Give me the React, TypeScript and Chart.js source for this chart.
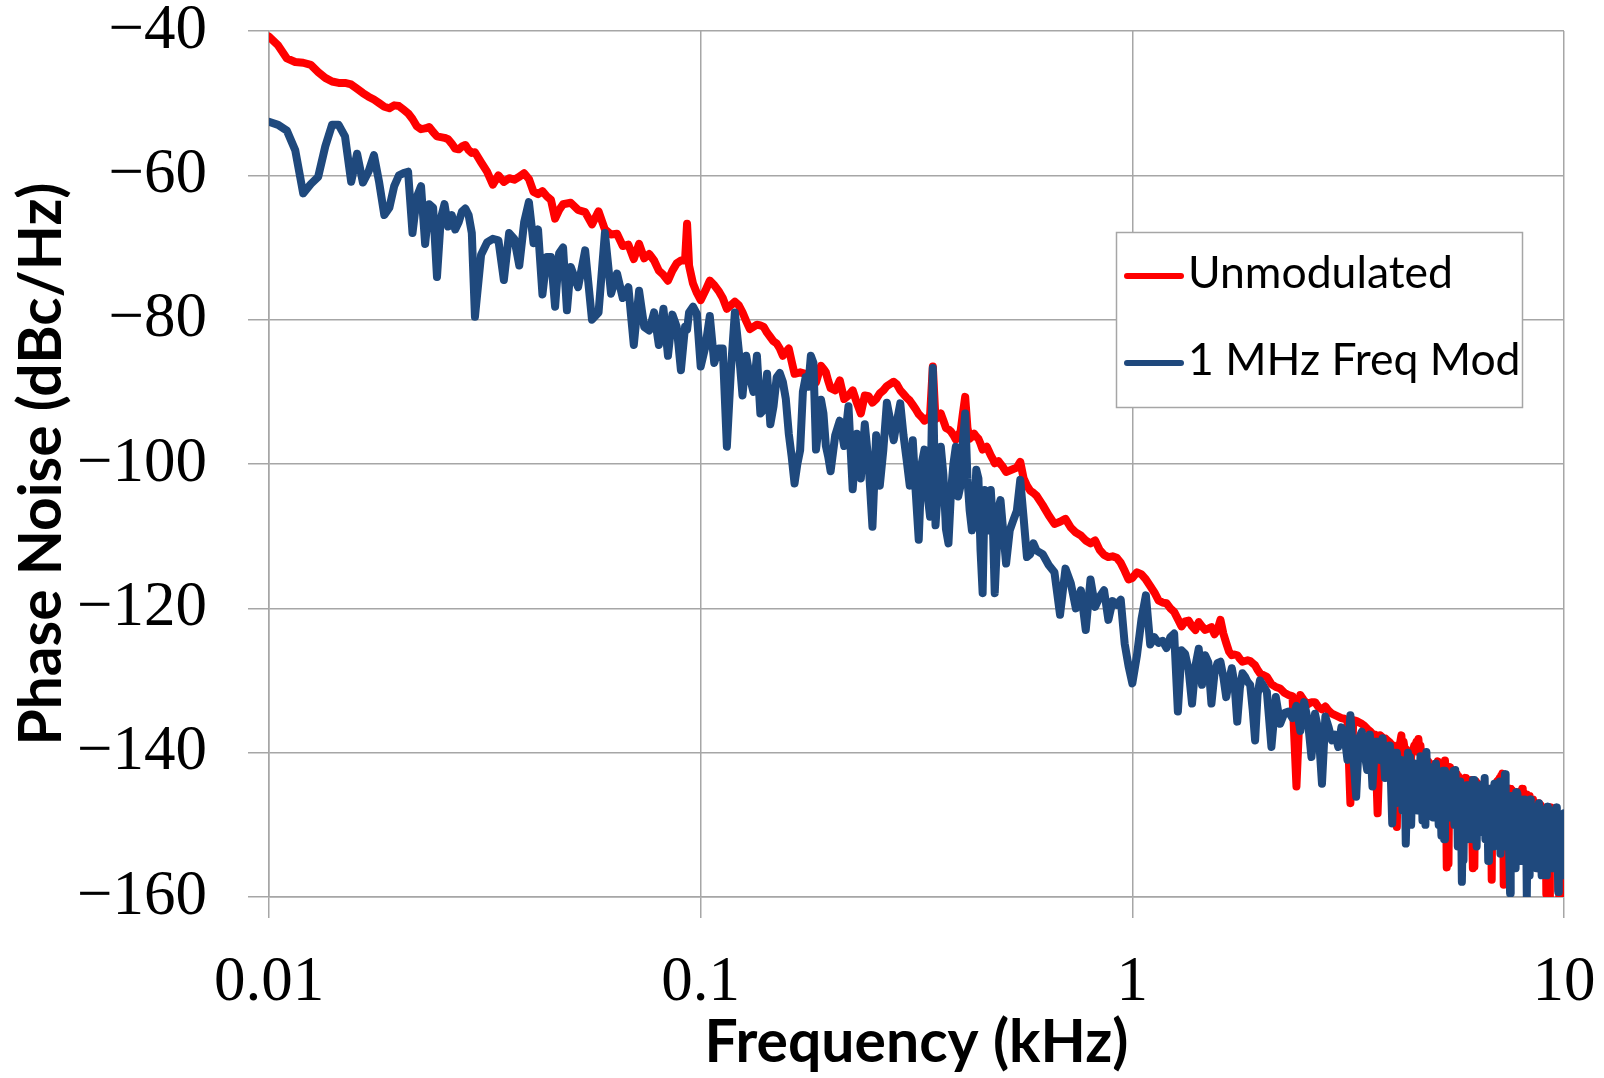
import React, { useEffect, useRef } from 'react';
import { Chart, registerables } from 'chart.js';

Chart.register(...registerables);

// Frequency grid (Hz)
const FREQ_HZ: number[] = [
  10, 10.5, 11, 11.5, 12, 12.5, 13, 13.5, 14, 14.5, 15, 15.5, 16, 16.5, 17, 17.5, 18, 18.5, 19, 19.5,
  20, 20.5, 21, 21.5, 22, 22.5, 23, 23.5, 24, 24.5, 25, 25.5, 26, 26.5, 27, 27.5, 28, 28.5, 29, 29.5,
  30, 31, 32, 33, 34, 35, 36, 37, 38, 39,
  40, 41, 42, 43, 44, 45, 46, 47, 48, 49,
  50, 52, 54, 56, 58, 60, 62, 64, 66, 68,
  70, 72, 74, 76, 78, 80, 82, 84, 86, 88,
  90, 92, 93, 94, 96, 98,
  100, 105, 110, 115, 120, 125, 130, 135, 140, 145,
  150, 155, 160, 165, 170, 175, 180, 185, 190, 195,
  200, 205, 210, 215, 220, 225, 230, 235, 240, 245,
  250, 255, 260, 265, 270, 275, 280, 285, 290, 295,
  300, 310, 320, 330, 340, 345, 350, 360, 370, 380, 390,
  400, 410, 420, 430, 440, 450, 460, 470, 480, 490,
  500, 520, 540, 550, 560, 580,
  600, 620, 640, 660, 680, 700, 720, 740, 760, 780,
  800, 820, 840, 860, 880, 900, 920, 940, 960, 980,
  1000, 1025, 1050, 1075, 1100, 1125, 1150, 1175, 1200, 1225,
  1250, 1275, 1300, 1325, 1350, 1375, 1400, 1425, 1450, 1475,
  1500, 1525, 1550, 1575, 1600, 1625, 1650, 1675, 1700, 1725,
  1750, 1775, 1800, 1825, 1850, 1875, 1900, 1925, 1950, 1975,
  2000, 2050, 2100, 2150, 2200, 2250, 2300, 2350, 2400, 2450,
  2500, 2550, 2600, 2650, 2700, 2750, 2800, 2850, 2900, 2950,
  3000, 3050, 3100, 3150, 3200, 3250, 3300, 3350, 3400, 3450,
  3500, 3550, 3600, 3650, 3700, 3750, 3800, 3850, 3900, 3950,
  4000, 4050, 4100, 4150, 4200, 4250, 4300, 4350, 4400, 4450,
  4500, 4550, 4600, 4650, 4700, 4750, 4800, 4850, 4900, 4950,
  5000, 5050, 5100, 5150, 5200, 5250, 5300, 5350, 5400, 5450,
  5500, 5550, 5600, 5650, 5700, 5750, 5800, 5850, 5900, 5950,
  6000, 6050, 6100, 6150, 6200, 6250, 6300, 6350, 6400, 6450,
  6500, 6550, 6600, 6650, 6700, 6750, 6800, 6850, 6900, 6950,
  7000, 7050, 7100, 7150, 7200, 7250, 7300, 7350, 7400, 7450,
  7500, 7550, 7600, 7650, 7700, 7750, 7800, 7850, 7900, 7950,
  8000, 8050, 8100, 8150, 8200, 8250, 8300, 8350, 8400, 8450,
  8500, 8550, 8600, 8650, 8700, 8750, 8800, 8850, 8900, 8950,
  9000, 9050, 9100, 9150, 9200, 9250, 9300, 9350, 9400, 9450,
  9500, 9550, 9600, 9650, 9700, 9750, 9800, 9850, 9900, 9950,
  10000,
];

// Unmodulated (dBc/Hz)
const UNMODULATED: number[] = [
  -40.8, -42.0, -43.8, -44.3, -44.4, -44.7, -45.7, -46.5, -47.0, -47.2, -47.2, -47.4, -48.0, -48.6, -49.1, -49.5, -50.0, -50.5, -50.7, -50.3,
  -50.4, -50.9, -51.4, -52.2, -53.2, -53.6, -53.5, -53.3, -54.0, -54.6, -54.7, -54.8, -55.0, -55.6, -56.3, -56.4, -56.0, -55.8, -56.5, -56.9,
  -56.8, -58.2, -59.5, -61.3, -60.0, -60.9, -60.4, -60.6, -60.2, -59.7,
  -60.5, -62.3, -62.6, -62.2, -62.9, -63.4, -66.0, -64.8, -64.0, -63.9,
  -63.8, -64.8, -65.1, -66.8, -65.0, -67.5, -68.2, -68.1, -69.8, -69.6,
  -71.6, -69.5, -71.5, -70.9, -71.8, -73.2, -73.8, -74.6, -73.2, -72.2,
  -71.8, -71.8, -66.7, -72.5, -75.0, -76.3,
  -77.3, -74.6, -76.0, -78.5, -77.5, -79.0, -81.3, -80.7, -81.0, -82.4,
  -83.3, -85.0, -84.0, -87.5, -87.3, -87.5, -88.0, -88.7, -86.4, -87.3,
  -89.5, -89.8, -88.4, -91.0, -90.5, -89.8, -91.5, -93.0, -90.5, -90.6,
  -91.5, -91.0, -90.2, -89.8, -89.2, -88.9, -88.6, -89.0, -89.8, -90.3,
  -90.8, -91.8, -93.1, -94.0, -93.2, -86.5, -93.8, -93.0, -95.0, -95.5, -96.6,
  -95.5, -90.7, -96.5, -95.8, -96.5, -98.0, -97.6, -98.8, -99.9, -99.6,
  -100.3, -100.9, -100.5, -99.7, -102.0, -103.7,
  -104.4, -105.7, -107.1, -108.3, -108.0, -107.6, -108.8, -109.5, -109.9, -110.6,
  -111.0, -110.6, -111.9, -112.6, -112.9, -112.8, -113.0, -113.7, -114.8, -116.0,
  -115.8, -115.0, -115.3, -116.0, -116.9, -117.8, -118.9, -119.2, -119.3, -120.0,
  -120.5, -121.5, -122.5, -121.8, -121.7, -122.5, -123.0, -121.9, -122.5, -123.0,
  -122.8, -122.6, -123.6, -123.0, -121.6, -123.5, -124.8, -126.0, -126.5, -126.4,
  -126.5, -127.0, -127.4, -127.3, -127.2, -127.3, -127.6, -127.9, -128.5, -129.0,
  -129.2, -129.5, -130.5, -130.9, -131.1, -131.7, -132.0, -132.2, -144.7, -132.0,
  -132.8, -133.3, -133.0, -133.0, -133.7, -134.0, -133.6, -134.2, -134.6, -134.8,
  -135.0, -135.2, -135.3, -135.5, -147.0, -135.5, -135.6, -135.8, -136.0, -136.3,
  -136.7, -137.0, -137.4, -137.5, -148.4, -137.6, -137.9, -138.0, -138.3, -138.6,
  -139.0, -143.0, -150.3, -139.0, -137.6, -138.5, -139.5, -143.0, -149.4, -140.0,
  -139.0, -138.5, -138.1, -139.0, -140.2, -140.5, -141.0, -141.2, -141.5, -145.0,
  -146.0, -141.5, -141.2, -141.5, -141.8, -141.5, -141.1, -155.9, -155.4, -142.0,
  -142.5, -142.8, -143.0, -143.0, -143.3, -147.0, -150.0, -144.0, -143.5, -143.8,
  -144.0, -144.0, -143.8, -156.0, -155.8, -144.0, -144.2, -144.5, -144.7, -144.7,
  -144.7, -145.0, -152.0, -145.0, -145.0, -150.0, -157.6, -145.5, -145.0, -144.5,
  -144.0, -143.8, -143.5, -143.2, -142.9, -158.3, -145.0, -145.2, -150.0, -145.0,
  -145.0, -145.2, -145.3, -147.0, -153.0, -146.0, -145.5, -145.5, -145.5, -145.3,
  -145.0, -148.0, -152.0, -146.0, -145.8, -146.0, -146.0, -147.0, -150.0, -146.5,
  -146.8, -147.0, -147.0, -152.0, -156.0, -147.0, -147.3, -147.5, -152.0, -148.0,
  -148.0, -152.0, -159.6, -148.0, -148.0, -160.0, -147.6, -147.8, -148.0, -151.0,
  -155.0, -148.0, -148.5, -149.0, -159.0, -160.0, -160.0, -153.0, -151.0, -150.0,
  -149.4,
];

// 1 MHz Freq Mod (dBc/Hz)
const FREQ_MOD_1MHZ: number[] = [
  -52.6, -53.0, -53.8, -56.5, -62.5, -61.2, -60.2, -56.0, -53.0, -53.0, -54.6, -60.9, -57.0, -61.0, -59.5, -57.2, -61.0, -65.5, -64.5, -61.5,
  -60.0, -59.7, -59.5, -68.0, -63.0, -61.5, -69.5, -64.0, -64.5, -74.1, -66.0, -64.0, -67.1, -65.5, -67.5, -66.5, -65.0, -64.6, -65.5, -68.0,
  -79.6, -71.0, -69.3, -68.8, -69.0, -74.5, -68.0, -68.8, -72.5, -66.5,
  -63.7, -69.4, -67.5, -76.5, -71.3, -71.3, -78.2, -70.8, -70.0, -78.7,
  -72.7, -75.5, -70.4, -80.0, -79.0, -68.0, -76.4, -73.6, -77.0, -75.5,
  -83.5, -76.0, -81.0, -81.5, -79.0, -83.5, -78.5, -85.0, -79.3, -81.0,
  -87.0, -81.0, -81.4, -79.0, -78.2, -79.2,
  -86.5, -79.5, -84.0, -97.6, -79.0, -90.5, -88.0, -85.0, -92.5, -94.5,
  -88.0, -88.6, -95.8, -102.7, -98.1, -88.0, -85.0, -98.0, -91.1, -97.5,
  -101.0, -96.0, -94.0, -97.5, -92.0, -103.5, -95.8, -102.0, -94.5, -100.0,
  -108.7, -96.0, -103.0, -98.0, -91.5, -94.0, -96.7, -94.0, -91.6, -96.0,
  -99.4, -96.7, -110.5, -98.0, -107.3, -86.7, -108.5, -97.6, -109.0, -104.0, -97.6,
  -103.0, -93.0, -106.5, -108.0, -102.0, -117.9, -106.0, -103.6, -117.9, -106.0,
  -108.0, -109.2, -106.5, -102.2, -107.5, -112.5,
  -112.0, -112.5, -114.0, -115.0, -120.9, -114.5, -116.5, -120.0, -117.5, -123.0,
  -116.0, -119.8, -118.4, -117.5, -121.6, -119.0, -119.5, -118.8, -124.9, -128.0,
  -130.4, -126.5, -121.5, -118.2, -125.0, -124.0, -124.8, -124.5, -125.5, -124.0,
  -123.5, -134.3, -125.8, -126.3, -128.5, -133.2, -128.0, -125.6, -130.6, -126.5,
  -127.5, -133.2, -129.0, -127.6, -127.4, -129.5, -132.3, -130.0, -128.3, -130.5,
  -135.7, -131.0, -129.0, -129.5, -130.2, -130.6, -134.0, -138.3, -132.0, -130.0,
  -130.5, -131.6, -139.2, -132.3, -136.0, -134.5, -134.3, -135.2, -133.5, -137.0,
  -133.0, -135.5, -140.6, -134.6, -137.0, -144.3, -135.0, -136.5, -138.3, -137.5,
  -139.2, -136.5, -137.5, -141.0, -134.8, -140.5, -146.1, -138.0, -137.1, -140.0,
  -142.4, -137.5, -144.7, -138.5, -138.5, -141.0, -138.0, -143.5, -141.0, -139.0,
  -149.8, -140.0, -140.0, -143.5, -141.0, -145.0, -152.6, -140.0, -140.6, -144.0,
  -141.5, -146.0, -142.0, -140.5, -149.4, -143.0, -139.9, -144.5, -142.0, -146.0,
  -143.0, -141.5, -146.0, -148.5, -151.5, -142.5, -142.5, -146.5, -143.0, -149.0,
  -147.0, -142.5, -142.4, -145.5, -148.0, -144.0, -157.9, -154.9, -150.0, -144.5,
  -144.5, -148.0, -146.0, -143.8, -143.8, -149.0, -147.0, -145.0, -144.5, -150.5,
  -146.0, -143.5, -145.0, -148.0, -151.5, -145.0, -146.0, -149.0, -144.3, -147.5,
  -147.0, -144.5, -144.0, -149.0, -145.0, -144.0, -143.0, -148.5, -146.0, -152.0,
  -159.5, -146.0, -146.0, -150.0, -147.5, -145.5, -145.7, -151.0, -150.0, -146.5,
  -147.0, -153.0, -146.5, -150.0, -160.0, -147.5, -148.5, -146.5, -147.6, -151.0,
  -152.0, -147.5, -148.0, -153.5, -150.0, -147.0, -147.8, -151.0, -155.5, -149.0,
  -148.5, -154.0, -149.5, -147.5, -153.0, -149.0, -148.0, -152.0, -156.0, -148.5,
  -148.5, -153.0, -147.6, -150.5, -159.3, -149.0, -150.0, -154.0, -157.0, -152.0,
  -148.4,
];

// Additional in-between frequency bins (Hz) where the traces are densest
const EXTRA_FREQ_HZ: number[] = [
  102.5, 107.5, 112.5, 117.5, 122.5, 127.5, 132.5, 137.5, 142.5, 147.5,
  152.5, 157.5, 162.5, 167.5, 172.5, 177.5, 182.5, 187.5, 192.5, 197.5,
  305, 315, 325, 335, 355, 365, 375, 385, 395,
  405, 415, 425, 435, 445, 455, 465, 475, 485, 495,
  510, 530, 570, 590,
  4025, 4075, 4125, 4175, 4225, 4275, 4325, 4375, 4425, 4475,
  4525, 4575, 4625, 4675, 4725, 4775, 4825, 4875, 4925, 4975,
  5025, 5075, 5125, 5175, 5225, 5275, 5325, 5375, 5425, 5475,
  5525, 5575, 5625, 5675, 5725, 5775, 5825, 5875, 5925, 5975,
  6025, 6075, 6125, 6175, 6225, 6275, 6325, 6375, 6425, 6475,
  6525, 6575, 6625, 6675, 6725, 6775, 6825, 6875, 6925, 6975,
  7025, 7075, 7125, 7175, 7225, 7275, 7325, 7375, 7425, 7475,
  7525, 7575, 7625, 7675, 7725, 7775, 7825, 7875, 7925, 7975,
  8025, 8075, 8125, 8175, 8225, 8275, 8325, 8375, 8425, 8475,
  8525, 8575, 8625, 8675, 8725, 8775, 8825, 8875, 8925, 8975,
  9025, 9075, 9125, 9175, 9225, 9275, 9325, 9375, 9425, 9475,
  9525, 9575, 9625, 9675, 9725, 9775, 9825, 9875, 9925, 9975,
];

const EXTRA_UNMODULATED: number[] = [
  -76.0, -75.2, -77.0, -78.0, -78.0, -80.2, -81.0, -80.8, -81.8, -83.0,
  -84.0, -84.5, -85.8, -87.4, -87.4, -87.8, -88.3, -87.5, -86.8, -88.5,
  -91.2, -92.4, -93.5, -93.8, -93.5, -94.0, -95.2, -96.0, -96.0,
  -93.0, -95.0, -96.2, -96.2, -97.2, -97.8, -98.2, -99.3, -99.8, -100.0,
  -101.1, -100.7, -103.0, -104.0,
  -139.0, -140.5, -139.5, -138.5, -140.0, -139.5, -141.0, -139.8, -140.5, -139.5,
  -139.0, -139.5, -140.0, -141.0, -140.5, -141.0, -141.5, -142.0, -141.8, -142.0,
  -142.0, -141.8, -142.0, -141.8, -142.5, -142.0, -143.0, -152.0, -142.5, -143.0,
  -143.0, -143.2, -143.5, -143.8, -144.0, -144.2, -144.0, -143.8, -144.0, -144.2,
  -144.2, -144.0, -150.0, -144.5, -144.5, -144.7, -145.0, -144.8, -145.0, -145.0,
  -145.0, -145.2, -145.0, -145.5, -145.5, -145.8, -145.0, -145.2, -144.8, -144.5,
  -144.2, -144.0, -143.8, -143.5, -144.5, -145.0, -145.2, -145.5, -146.0, -145.5,
  -145.5, -145.8, -146.0, -146.2, -146.0, -145.8, -146.0, -146.0, -145.8, -145.5,
  -146.0, -146.5, -146.5, -146.3, -146.2, -146.5, -146.8, -147.0, -147.0, -147.2,
  -147.2, -147.5, -147.5, -148.0, -148.0, -147.8, -148.0, -148.5, -148.5, -148.3,
  -148.5, -149.0, -149.0, -148.5, -148.8, -149.0, -148.5, -149.0, -149.5, -149.5,
  -149.5, -150.0, -149.8, -150.0, -150.5, -150.5, -151.0, -150.5, -150.0, -149.8,
];

const EXTRA_FREQ_MOD_1MHZ: number[] = [
  -83.8, -86.0, -84.0, -87.0, -84.2, -85.0, -90.0, -93.0, -87.5, -92.0,
  -87.4, -91.0, -99.0, -100.0, -90.0, -89.3, -86.0, -95.0, -93.0, -99.0,
  -103.0, -104.0, -100.0, -104.0, -103.0, -101.5, -111.0, -100.0, -104.5,
  -97.0, -102.0, -109.2, -100.8, -112.0, -103.6, -109.2, -108.0, -112.0, -105.0,
  -113.8, -107.8, -112.9, -111.0,
  -145.0, -147.0, -142.0, -146.0, -148.0, -143.0, -147.0, -145.0, -150.0, -144.0,
  -144.0, -148.0, -146.0, -143.0, -147.0, -150.0, -144.0, -147.0, -145.0, -149.0,
  -148.0, -144.0, -150.0, -147.0, -145.0, -152.0, -147.0, -146.0, -149.0, -145.0,
  -146.0, -150.0, -147.0, -153.0, -146.0, -149.0, -151.0, -147.0, -148.0, -152.0,
  -150.0, -147.0, -152.0, -148.0, -146.0, -153.0, -149.0, -148.0, -151.0, -147.0,
  -149.0, -152.0, -148.0, -155.0, -149.0, -150.0, -147.0, -153.0, -150.0, -148.0,
  -150.0, -148.0, -154.0, -147.0, -151.0, -149.0, -153.0, -148.0, -150.0, -155.0,
  -150.0, -153.0, -149.0, -151.0, -156.0, -149.0, -152.0, -150.0, -155.0, -151.0,
  -152.0, -149.0, -155.0, -151.0, -153.0, -150.0, -157.0, -152.0, -150.0, -154.0,
  -153.0, -151.0, -156.0, -150.0, -154.0, -152.0, -150.0, -157.0, -153.0, -151.0,
  -155.0, -152.0, -157.0, -151.0, -154.0, -156.0, -152.0, -150.0, -155.0, -153.0,
  -152.0, -156.0, -151.0, -155.0, -158.0, -152.0, -154.0, -151.0, -156.0, -153.0,
];

const X_TICKS = [0.01, 0.1, 1, 10];
const X_TICK_LABELS = ['0.01', '0.1', '1', '10'];
const Y_TICKS = [-160, -140, -120, -100, -80, -60, -40];
const Y_TICK_LABELS = ['\u2212160', '\u2212140', '\u2212120', '\u2212100', '\u221280', '\u221260', '\u221240'];
const SERIES_NAMES = ['Unmodulated', '1 MHz Freq Mod'];
const X_TITLE = 'Frequency (kHz)';
const Y_TITLE = 'Phase Noise (dBc/Hz)';

const RED = '#FF0000';
const BLUE = '#1F497D';
const GRID = '#A6A6A6';
const SANS = 'Lato';
const SERIF = '"Liberation Serif", "Times New Roman", serif';
const LINE_W = 8;

function fitSize(text: string, weight: string, family: string, target: number): number {
  const c = document.createElement('canvas').getContext('2d');
  if (!c) return 50;
  c.font = `${weight} 100px ${family}`;
  const w = c.measureText(text).width;
  return w > 0 ? (100 * target) / w : 50;
}

function buildPoints(freqs: number[][], values: number[][]) {
  const pts: { x: number; y: number }[] = [];
  freqs.forEach((fs, k) => {
    const vs = values[k];
    const n = Math.min(fs.length, vs.length);
    for (let i = 0; i < n; i++) pts.push({ x: fs[i] / 1000, y: vs[i] });
  });
  pts.sort((a, b) => a.x - b.x);
  return pts;
}

const boxLegend = {
  id: 'boxLegend',
  afterDraw(chart: any) {
    const ctx: CanvasRenderingContext2D = chart.ctx;
    const L = 1116, T = 232, R = 1522, B = 407;
    ctx.save();
    ctx.fillStyle = '#FFFFFF';
    ctx.fillRect(L, T, R - L, B - T);
    ctx.strokeStyle = GRID;
    ctx.lineWidth = 1.5;
    ctx.strokeRect(L + 0.5, T + 0.5, R - L, B - T);
    const size = fitSize(SERIES_NAMES[0], 'normal', SANS, 265);
    ctx.font = `normal ${size}px ${SANS}`;
    ctx.textBaseline = 'middle';
    ctx.textAlign = 'left';
    chart.data.datasets.forEach((ds: any, i: number) => {
      const y = 276 + i * 87;
      ctx.strokeStyle = ds.borderColor;
      ctx.lineWidth = 6;
      ctx.lineCap = 'round';
      ctx.beginPath();
      ctx.moveTo(1127, y);
      ctx.lineTo(1181, y);
      ctx.stroke();
      ctx.fillStyle = '#000000';
      ctx.fillText(ds.label, 1188, y - 2);
    });
    ctx.restore();
  },
};

export default function App() {
  const ref = useRef<HTMLCanvasElement | null>(null);

  useEffect(() => {
    if (!ref.current) return;
    const redPts = buildPoints([FREQ_HZ, EXTRA_FREQ_HZ], [UNMODULATED, EXTRA_UNMODULATED]);
    const bluePts = buildPoints([FREQ_HZ, EXTRA_FREQ_HZ], [FREQ_MOD_1MHZ, EXTRA_FREQ_MOD_1MHZ]);
    const ySize = fitSize(Y_TITLE, 'bold', SANS, 563);
    const xSize = fitSize(X_TITLE, 'bold', SANS, 424);

    const chart = new Chart(ref.current, {
      type: 'line',
      data: {
        datasets: [
          {
            label: SERIES_NAMES[0], data: redPts, borderColor: RED, backgroundColor: RED, order: 2,
            borderWidth: LINE_W, pointRadius: 0, tension: 0, borderJoinStyle: 'round', borderCapStyle: 'round', clip: 0,
          },
          {
            label: SERIES_NAMES[1], data: bluePts, borderColor: BLUE, backgroundColor: BLUE, order: 1,
            borderWidth: LINE_W, pointRadius: 0, tension: 0, borderJoinStyle: 'round', borderCapStyle: 'round', clip: 0,
          },
        ],
      },
      options: {
        responsive: false,
        animation: false,
        devicePixelRatio: 1,
        elements: { line: { borderWidth: LINE_W, borderJoinStyle: 'round', borderCapStyle: 'round' }, point: { radius: 0 } },
        layout: { padding: { left: 0, top: 31, right: 40, bottom: 0 } },
        plugins: {
          legend: { display: false },
          tooltip: { enabled: false },
        },
        scales: {
          x: {
            type: 'logarithmic',
            position: 'bottom',
            min: 0.01,
            max: 10,
            afterBuildTicks: (s: any) => {
              s.ticks = X_TICKS.map((v) => ({ value: v }));
            },
            afterFit: (s: any) => {
              s.height = 181;
              s.paddingLeft = 0;
              s.paddingRight = 0;
            },
            ticks: {
              autoSkip: false,
              maxRotation: 0,
              minRotation: 0,
              padding: 28,
              color: '#000000',
              font: { family: SERIF, size: 63 },
              callback: (_v: any, i: number) => X_TICK_LABELS[i],
            },
            grid: { color: GRID, lineWidth: 1.5, tickLength: 21, drawTicks: true },
            border: { display: true, color: GRID, width: 1.5 },
            title: {
              display: true,
              text: X_TITLE,
              color: '#000000',
              font: { family: SANS, size: xSize, weight: 'bold' },
              padding: { top: 0, bottom: 0 },
            },
          },
          y: {
            type: 'linear',
            min: -160,
            max: -40,
            afterBuildTicks: (s: any) => {
              s.ticks = Y_TICKS.map((v) => ({ value: v }));
            },
            afterFit: (s: any) => {
              s.width = 269;
              s.paddingTop = 0;
              s.paddingBottom = 0;
            },
            ticks: {
              padding: 41,
              color: '#000000',
              font: { family: SERIF, size: 63 },
              callback: (_v: any, i: number) => Y_TICK_LABELS[i],
            },
            grid: { color: GRID, lineWidth: 1.5, tickLength: 21, drawTicks: true },
            border: { display: true, color: GRID, width: 1.5 },
            title: {
              display: true,
              text: Y_TITLE,
              color: '#000000',
              font: { family: SANS, size: ySize, weight: 'bold' },
              padding: { top: Math.max(0, 42.3 - 0.6 * ySize), bottom: 0 },
            },
          },
        },
      },
      plugins: [boxLegend],
    } as any);

    return () => chart.destroy();
  }, []);

  return (
    <div style={{ position: 'fixed', left: 0, top: 0, width: 1604, height: 1078, background: '#FFFFFF' }}>
      <canvas ref={ref} width={1604} height={1078} style={{ display: 'block', width: 1604, height: 1078 }} />
    </div>
  );
}
